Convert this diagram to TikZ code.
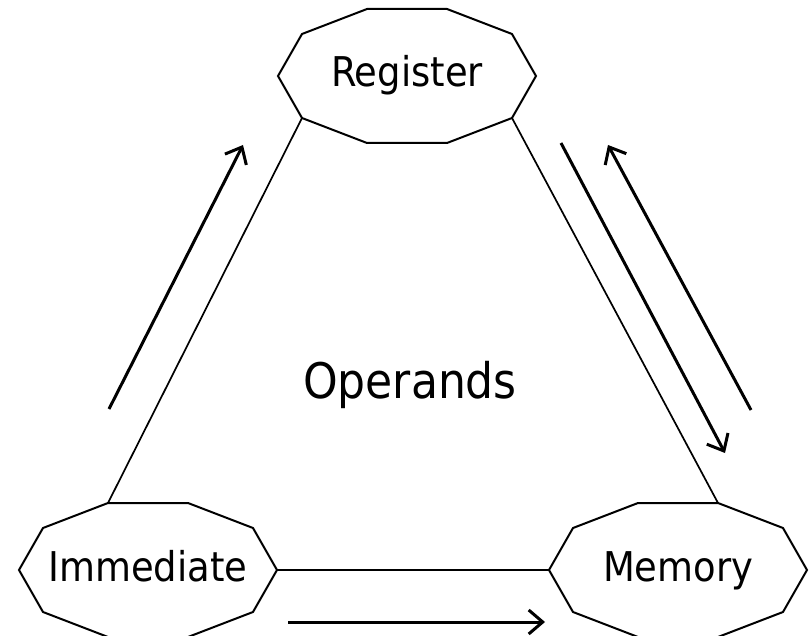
\documentclass[tikz,border=0pt]{standalone}
\usepackage{fontspec}
\setmainfont{DejaVu Sans Condensed}
\usetikzlibrary{arrows.meta}
\tikzset{
  decabox/.style={inner sep=0pt, minimum width=258pt, minimum height=134pt, text height=30pt, text depth=8pt, font=\fontsize{41}{44}\selectfont},
  deca/.style={line width=2pt, line join=miter},
  link/.style={line width=1.7pt},
  flow/.style={line width=3pt, -{Straight Barb[length=14pt, width=24pt, line width=3pt]}},
}
\newcommand\drawdeca[1]{%
  \draw[deca] ([shift={(-40,-67)}]#1.center) -- ([shift={(40,-67)}]#1.center)
    -- ([shift={(105,-42)}]#1.center) -- ([shift={(129,0)}]#1.center)
    -- ([shift={(105,42)}]#1.center) -- ([shift={(40,67)}]#1.center)
    -- ([shift={(-40,67)}]#1.center) -- ([shift={(-105,42)}]#1.center)
    -- ([shift={(-129,0)}]#1.center) -- ([shift={(-105,-42)}]#1.center) -- cycle;}
\begin{document}
\begin{tikzpicture}[x=1pt, y=-1pt]
\useasboundingbox (0,0) rectangle (811,636);
\node[decabox] (reg) at (407,76) {Register};
\node[decabox] (imm) at (148,570) {Immediate};
\node[decabox] (mem) at (678,570) {Memory};
\drawdeca{reg}
\drawdeca{imm}
\drawdeca{mem}
\node[anchor=base, inner sep=0pt, font=\fontsize{49}{52}\selectfont] (ops) at (410,398) {Operands};
% vertices used by links
\coordinate (reg-ll) at ([shift={(-105,42)}]reg.center);
\coordinate (reg-lr) at ([shift={(105,42)}]reg.center);
\coordinate (imm-tl) at ([shift={(-40,-67)}]imm.center);
\coordinate (imm-r) at ([shift={(129,0)}]imm.center);
\coordinate (mem-tr) at ([shift={(40,-67)}]mem.center);
\coordinate (mem-l) at ([shift={(-129,0)}]mem.center);
\draw[link] (reg-ll) -- (imm-tl);
\draw[link] (reg-lr) -- (mem-tr);
\draw[link] (imm-r) -- (mem-l);
% flow arrows
\coordinate (a1s) at (109,409); \coordinate (a1e) at (243,145);
\coordinate (a2s) at (561,143); \coordinate (a2e) at (725,453);
\coordinate (a3s) at (751,410); \coordinate (a3e) at (608,145);
\coordinate (a4s) at (288,622); \coordinate (a4e) at (545,622);
\draw[flow] (a1s) -- (a1e);
\draw[flow] (a2s) -- (a2e);
\draw[flow] (a3s) -- (a3e);
\draw[flow] (a4s) -- (a4e);
\end{tikzpicture}
\end{document}
